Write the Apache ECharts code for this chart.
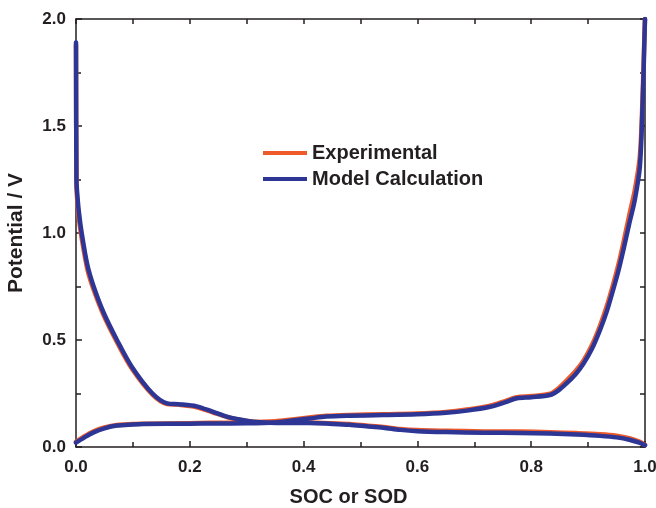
<!DOCTYPE html>
<html>
<head>
<meta charset="utf-8">
<script src="https://cdn.jsdelivr.net/npm/echarts@6/dist/echarts.min.js"></script>
<style>html,body{margin:0;padding:0;background:#fff}#c{width:656px;height:508px}</style>
</head>
<body>
<div id="c"></div>
<script>
// Lithiation branch (starts high at x=0, ends near 0 V at x=1)
const xLith = [0, 0.0008, 0.002, 0.005, 0.010, 0.020, 0.031, 0.049, 0.072, 0.098, 0.134, 0.160, 0.180, 0.212, 0.240, 0.265, 0.290, 0.311, 0.340, 0.370, 0.410, 0.450, 0.480, 0.510, 0.540, 0.570, 0.600, 0.650, 0.716, 0.780, 0.833, 0.880, 0.921, 0.950, 0.974, 0.990, 1.000];
const modelLith = [1.89, 1.25, 1.19, 1.10, 1.00, 0.85, 0.75, 0.625, 0.50, 0.375, 0.251, 0.204, 0.200, 0.190, 0.165, 0.142, 0.127, 0.118, 0.113, 0.112, 0.112, 0.108, 0.104, 0.097, 0.090, 0.080, 0.074, 0.070, 0.067, 0.066, 0.063, 0.058, 0.052, 0.045, 0.033, 0.020, 0.008];
const expLith = [1.88, 1.22, 1.16, 1.07, 0.975, 0.83, 0.735, 0.613, 0.49, 0.367, 0.246, 0.201, 0.198, 0.186, 0.162, 0.140, 0.126, 0.118, 0.114, 0.114, 0.114, 0.111, 0.107, 0.100, 0.093, 0.084, 0.079, 0.076, 0.073, 0.072, 0.069, 0.065, 0.060, 0.053, 0.040, 0.025, 0.010];

// Delithiation branch (starts near 0 V at x=0, ends high at x=1)
const xDelith = [0, 0.015, 0.030, 0.050, 0.072, 0.100, 0.118, 0.200, 0.235, 0.300, 0.350, 0.380, 0.410, 0.440, 0.480, 0.540, 0.599, 0.650, 0.687, 0.728, 0.755, 0.775, 0.800, 0.833, 0.848, 0.862, 0.878, 0.892, 0.907, 0.921, 0.933, 0.944, 0.953, 0.962, 0.972, 0.982, 0.991, 0.996, 0.999, 1.000];
const modelDelith = [0.020, 0.045, 0.067, 0.087, 0.100, 0.105, 0.107, 0.109, 0.110, 0.111, 0.115, 0.124, 0.133, 0.142, 0.146, 0.149, 0.153, 0.160, 0.170, 0.188, 0.210, 0.228, 0.233, 0.243, 0.265, 0.297, 0.340, 0.390, 0.460, 0.547, 0.635, 0.734, 0.820, 0.920, 1.040, 1.154, 1.310, 1.620, 1.900, 2.000];
const expDelith = [0.024, 0.050, 0.072, 0.091, 0.103, 0.107, 0.109, 0.111, 0.113, 0.115, 0.120, 0.129, 0.138, 0.146, 0.150, 0.153, 0.157, 0.164, 0.175, 0.193, 0.216, 0.233, 0.238, 0.249, 0.275, 0.310, 0.355, 0.405, 0.478, 0.568, 0.660, 0.760, 0.850, 0.955, 1.080, 1.200, 1.360, 1.660, 1.930, 2.000];

const xTicks = [0, 0.2, 0.4, 0.6, 0.8, 1.0];
const yTicks = [0, 0.5, 1.0, 1.5, 2.0];

const names = ['Experimental', 'Model Calculation'];
const colors = ['#ee5a2a', '#2d3694'];

function pairs(xs, ys) { return xs.map((x, i) => [x, ys[i]]); }

const axisColor = '#231f20';
const lineStyle = { color: axisColor, width: 1.5 };
const FONT = 'Liberation Sans, Arial, sans-serif';
const chart = echarts.init(document.getElementById('c'));

function mk(name, xs, ys, color, z) {
  return {
    name: name, type: 'line', data: pairs(xs, ys), showSymbol: false, symbol: 'none',
    smooth: 0.3, z: z,
    lineStyle: { color: color, width: 4.5, join: 'round', cap: 'round' }, itemStyle: { color: color }
  };
}

chart.setOption({
  animation: false,
  backgroundColor: '#fff',
  grid: { left: 76, right: 11, top: 19, bottom: 61, containLabel: false, outerBoundsMode: 'none' },
  legend: {
    orient: 'vertical', left: 258, top: 137,
    itemWidth: 44, itemHeight: 4, itemGap: 4, icon: 'rect',
    data: names,
    textStyle: { fontFamily: FONT, fontWeight: 'bold', fontSize: 20, color: axisColor, lineHeight: 22 }
  },
  xAxis: [{
    type: 'value', min: 0, max: 1, interval: 0.2, position: 'bottom',
    name: 'SOC or SOD', nameLocation: 'middle', nameGap: 40,
    nameTextStyle: { fontFamily: FONT, fontWeight: 'bold', fontSize: 20, color: axisColor, padding: [0, 24, 0, 0] },
    axisLine: { show: true, onZero: false, lineStyle: lineStyle },
    axisTick: { show: true, inside: true, length: 6, lineStyle: lineStyle },
    minorTick: { show: true, splitNumber: 2, length: 5, lineStyle: lineStyle },
    splitLine: { show: false },
    axisLabel: {
      margin: 12, fontFamily: FONT, fontWeight: 'bold', fontSize: 17, color: axisColor,
      formatter: v => xTicks.some(t => Math.abs(t - v) < 1e-9) ? v.toFixed(1) : ''
    }
  }, {
    type: 'value', min: 0, max: 1, interval: 0.1, position: 'top',
    axisLine: { show: true, onZero: false, lineStyle: lineStyle },
    axisTick: { show: true, inside: true, length: 5, lineStyle: lineStyle },
    axisLabel: { show: false }, splitLine: { show: false }
  }],
  yAxis: [{
    type: 'value', min: 0, max: 2, interval: 0.5, position: 'left',
    name: 'Potential / V', nameLocation: 'middle', nameGap: 49,
    nameTextStyle: { fontFamily: FONT, fontWeight: 'bold', fontSize: 21, color: axisColor },
    axisLine: { show: true, onZero: false, lineStyle: lineStyle },
    axisTick: { show: true, inside: true, length: 6, lineStyle: lineStyle },
    minorTick: { show: true, splitNumber: 2, length: 5, lineStyle: lineStyle },
    splitLine: { show: false },
    axisLabel: {
      margin: 10, fontFamily: FONT, fontWeight: 'bold', fontSize: 17, color: axisColor,
      formatter: v => yTicks.some(t => Math.abs(t - v) < 1e-9) ? v.toFixed(1) : ''
    }
  }, {
    type: 'value', min: 0, max: 2, interval: 0.25, position: 'right',
    axisLine: { show: true, onZero: false, lineStyle: lineStyle },
    axisTick: { show: true, inside: true, length: 5, lineStyle: lineStyle },
    axisLabel: { show: false }, splitLine: { show: false }
  }],
  series: [
    mk(names[0], xLith, expLith, colors[0], 2),
    mk(names[0], xDelith, expDelith, colors[0], 2),
    mk(names[1], xLith, modelLith, colors[1], 3),
    mk(names[1], xDelith, modelDelith, colors[1], 3)
  ]
});
</script>
</body>
</html>
